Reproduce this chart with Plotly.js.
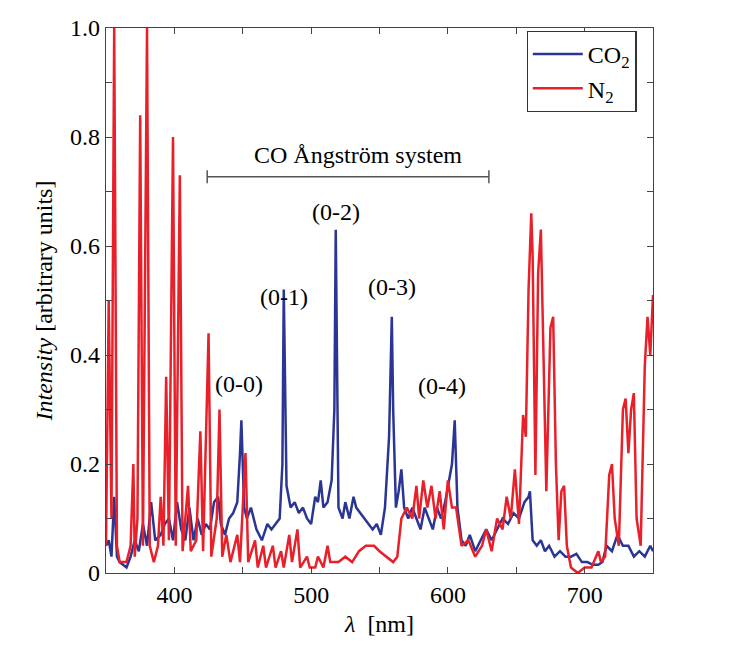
<!DOCTYPE html>
<html>
<head>
<meta charset="utf-8">
<script src="https://cdn.plot.ly/plotly-3.0.1.min.js"></script>
<style>html,body{margin:0;padding:0;background:#fff}#chart{width:738px;height:657px}</style>
</head>
<body>
<div id="chart"></div>
<script>
var n2Wl = [350,352,354,356,358,360,365,368,370,371,373,375,377,380,382,385,388,390,392,394,396,399,401,404,406,410,412,416,419,421,425,427,431,433,435,438,441,446,448,452,454,459,461,465,467,472,474,478,480,484,486,490,492,497,499,503,505,509,512,514,520,525,530,535,540,546,550,555,560,563,566,570,574,577,579,582,585,588,591,594,597,600,603,606,610,615,620,625,628,632,636,640,643,646,649,652,655,657,659,661,662,664,666,668,670,672,675,677,679,681,683,685,687,690,695,700,705,710,712,715,718,720,722,725,728,730,732,734,736,738,741,744,746,748,750];
var n2Val = [0.05,0.5,0.1,1.0,0.05,0.02,0.02,0.05,0.2,0.03,0.1,0.84,0.05,1.0,0.05,0.02,0.05,0.14,0.05,0.36,0.06,0.80,0.05,0.73,0.04,0.16,0.04,0.06,0.26,0.04,0.44,0.03,0.10,0.30,0.03,0.07,0.02,0.07,0.02,0.22,0.02,0.06,0.01,0.05,0.01,0.05,0.01,0.04,0.01,0.07,0.02,0.08,0.01,0.03,0.01,0.01,0.03,0.01,0.05,0.02,0.02,0.03,0.02,0.04,0.05,0.05,0.04,0.03,0.02,0.03,0.10,0.12,0.10,0.16,0.10,0.17,0.12,0.16,0.10,0.15,0.08,0.17,0.12,0.12,0.05,0.06,0.03,0.05,0.08,0.04,0.10,0.08,0.14,0.10,0.19,0.09,0.29,0.25,0.52,0.66,0.58,0.18,0.55,0.63,0.40,0.15,0.45,0.47,0.20,0.06,0.15,0.16,0.05,0.01,0.0,0.01,0.01,0.04,0.02,0.03,0.18,0.20,0.10,0.05,0.30,0.32,0.22,0.30,0.33,0.10,0.05,0.38,0.47,0.40,0.51];

var co2Wl = [350,352,354,356,358,360,365,368,371,374,377,380,383,386,390,393,396,399,402,405,408,411,414,417,420,423,426,429,432,434,437,440,443,446,448,449,451,453,456,460,464,468,471,474,477,479,480,482,485,488,491,494,497,500,503,505,507,509,512,515,517,518,520,523,525,528,531,533,536,539,542,545,548,551,554,557,559,560,562,564,566,568,571,574,577,580,583,586,589,592,595,598,601,603,605,607,610,613,616,620,624,628,632,636,640,644,648,652,656,659,660,662,665,668,671,674,678,682,686,690,694,698,702,706,710,713,716,720,724,728,732,736,740,744,748,750];
var co2Val = [0.05,0.06,0.03,0.14,0.03,0.02,0.01,0.03,0.06,0.04,0.09,0.05,0.13,0.06,0.07,0.09,0.10,0.06,0.13,0.08,0.06,0.12,0.06,0.10,0.07,0.09,0.08,0.13,0.14,0.09,0.07,0.10,0.11,0.13,0.22,0.28,0.12,0.10,0.12,0.08,0.06,0.09,0.08,0.09,0.10,0.20,0.52,0.16,0.12,0.13,0.11,0.12,0.10,0.09,0.14,0.13,0.17,0.12,0.13,0.17,0.30,0.63,0.12,0.10,0.13,0.10,0.14,0.12,0.11,0.10,0.09,0.08,0.09,0.07,0.12,0.25,0.47,0.30,0.12,0.15,0.19,0.12,0.10,0.12,0.10,0.08,0.12,0.10,0.08,0.12,0.10,0.13,0.17,0.20,0.28,0.12,0.06,0.05,0.07,0.04,0.06,0.08,0.06,0.08,0.10,0.09,0.11,0.10,0.13,0.14,0.15,0.06,0.05,0.06,0.04,0.05,0.03,0.04,0.03,0.03,0.035,0.02,0.02,0.015,0.015,0.02,0.05,0.04,0.07,0.05,0.05,0.03,0.04,0.03,0.05,0.04];

var bandLabels = ["(0-0)","(0-1)","(0-2)","(0-3)","(0-4)"];
var bandWl = [447,480,518,559,596];
var bandY = [0.347,0.506,0.662,0.525,0.343];
var systemName = "CO Ångström system";
var systemRange = [424,630];

var yTicks = [0,0.1,0.2,0.3,0.4,0.5,0.6,0.7,0.8,0.9,1.0];
var yTickText = ["0","","0.2","","0.4","","0.6","","0.8","","1.0"];
var xTicks = [350,400,450,500,550,600,650,700,750];
var xTickText = ["","400","","500","","600","","700",""];

var serif = "Liberation Serif, Times New Roman, serif";

var traces = [
  { x: co2Wl, y: co2Val, mode: "lines", name: "CO<sub>2</sub>", line: { color: "#2b3594", width: 2.5 } },
  { x: n2Wl, y: n2Val, mode: "lines", name: "N<sub>2</sub>", line: { color: "#e8202a", width: 2.5 } }
];

var annotations = bandLabels.map(function (t, i) {
  return { x: bandWl[i], y: bandY[i], text: t, showarrow: false, yanchor: "middle", font: { family: serif, size: 24, color: "#000" } };
});
annotations.push({ x: 534, y: 0.767, text: systemName, showarrow: false, yanchor: "middle", font: { family: serif, size: 24, color: "#000" } });

var shapes = [
  { type: "line", x0: systemRange[0], x1: systemRange[1], y0: 0.727, y1: 0.727, line: { color: "#555", width: 1.5 } },
  { type: "line", x0: systemRange[0], x1: systemRange[0], y0: 0.715, y1: 0.739, line: { color: "#555", width: 1.5 } },
  { type: "line", x0: systemRange[1], x1: systemRange[1], y0: 0.715, y1: 0.739, line: { color: "#555", width: 1.5 } }
];

Plotly.newPlot("chart", traces, {
  width: 738, height: 657,
  margin: { l: 106, r: 85, t: 28, b: 84 },
  paper_bgcolor: "#fff", plot_bgcolor: "#fff",
  font: { family: serif, size: 24, color: "#000" },
  showlegend: true,
  legend: { x: 0.97, y: 0.995, xanchor: "right", yanchor: "top", bordercolor: "#333", borderwidth: 1.2, bgcolor: "#fff", font: { family: serif, size: 24 }, itemwidth: 50, tracegroupgap: 14 },
  xaxis: {
    range: [350, 750], tickvals: xTicks, ticktext: xTickText, ticks: "inside", ticklen: 6, tickcolor: "#444",
    showline: true, mirror: "ticks", linecolor: "#444", linewidth: 1.2, showgrid: false, zeroline: false,
    title: { text: "<i>λ</i>  [nm]", font: { family: serif, size: 24 }, standoff: 8 }
  },
  yaxis: {
    range: [0, 1.0], tickvals: yTicks, ticktext: yTickText, ticks: "inside", ticklen: 6, tickcolor: "#444",
    showline: true, mirror: "ticks", linecolor: "#444", linewidth: 1.2, showgrid: false, zeroline: false,
    title: { text: "<i>Intensity</i> [arbitrary units]", font: { family: serif, size: 24 }, standoff: 10 }
  },
  annotations: annotations,
  shapes: shapes
}, { displayModeBar: false, staticPlot: true });
</script>
</body>
</html>
